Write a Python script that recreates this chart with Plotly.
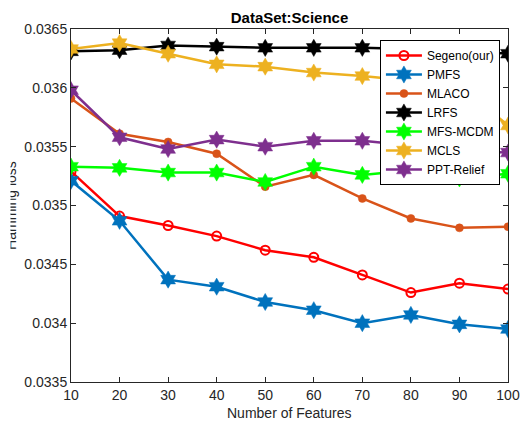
import plotly.graph_objects as go

features = [10, 20, 30, 40, 50, 60, 70, 80, 90, 100]
segeno = [0.03529, 0.03491, 0.03483, 0.03474, 0.03462, 0.03456, 0.03441, 0.03426, 0.03434, 0.03429]
pmfs = [0.03521, 0.03487, 0.03437, 0.03431, 0.03418, 0.03411, 0.03400, 0.03407, 0.03399, 0.03395]
mlaco = [0.03591, 0.03561, 0.03554, 0.03544, 0.03516, 0.03526, 0.03506, 0.03489, 0.03481, 0.03482]
lrfs = [0.03631, 0.03632, 0.03636, 0.03635, 0.03634, 0.03634, 0.03634, 0.03633, 0.03632, 0.03629]
mfs_mcdm = [0.03533, 0.03532, 0.03528, 0.03528, 0.03520, 0.03533, 0.03526, 0.03530, 0.03523, 0.03527]
mcls = [0.03633, 0.03638, 0.03629, 0.03620, 0.03618, 0.03613, 0.03610, 0.03606, 0.03602, 0.03568]
ppt_relief = [0.03598, 0.03558, 0.03548, 0.03556, 0.03550, 0.03555, 0.03555, 0.03551, 0.03546, 0.03545]

series = [
    ("Segeno(our)", segeno, "#FF0000", "circle-open", 9),
    ("PMFS", pmfs, "#0072BD", "hexagram", 13),
    ("MLACO", mlaco, "#D95319", "circle", 8),
    ("LRFS", lrfs, "#000000", "hexagram", 13),
    ("MFS-MCDM", mfs_mcdm, "#00FF00", "hexagram", 13),
    ("MCLS", mcls, "#EDB120", "hexagram", 13),
    ("PPT-Relief", ppt_relief, "#7E2F8E", "hexagram", 13),
]

fig = go.Figure()
for name, vals, color, sym, size in series:
    fig.add_trace(go.Scatter(
        x=features, y=vals, name=name, mode="lines+markers",
        line=dict(color=color, width=2.5),
        marker=dict(symbol=sym, size=size, color=color,
                    line=dict(color=color, width=2 if sym == "circle-open" else 0.5)),
    ))

W, H = 532, 421
L, R, T, B = 71, 14, 29, 39
axis_color = "#262626"
font_family = "Liberation Sans, Arial, sans-serif"
pw = W - L - R
ph = H - T - B

fig.update_layout(
    width=W, height=H,
    margin=dict(l=L, r=R, t=T, b=B),
    paper_bgcolor="white", plot_bgcolor="white",
    font=dict(family=font_family, size=14, color=axis_color),
    title=dict(text="<b>DataSet:Science</b>", x=0.5, xanchor="center",
               xref="paper", y=1 - 18 / H, yref="container", yanchor="middle",
               font=dict(size=15, color="#000000")),
    showlegend=True,
    legend=dict(x=(387 - L) / pw, y=1 - (40 - T) / ph,
                xanchor="left", yanchor="top",
                bgcolor="white", bordercolor="#000000", borderwidth=1,
                font=dict(size=12, color="#000000"),
                itemwidth=36, tracegroupgap=0),
)

fig.update_xaxes(
    range=[10, 100], tickvals=features, ticktext=[str(v) for v in features],
    showgrid=False, zeroline=False, showline=True, linecolor=axis_color, linewidth=1,
    mirror="ticks", ticks="inside", ticklen=5, tickcolor=axis_color,
    tickfont=dict(size=14, color=axis_color),
)
fig.update_yaxes(
    range=[0.0335, 0.0365],
    tickvals=[0.0335, 0.034, 0.0345, 0.035, 0.0355, 0.036, 0.0365],
    ticktext=["0.0335", "0.034", "0.0345", "0.035", "0.0355", "0.036", "0.0365"],
    showgrid=False, zeroline=False, showline=True, linecolor=axis_color, linewidth=1,
    mirror="ticks", ticks="inside", ticklen=5, tickcolor=axis_color,
    tickfont=dict(size=14, color=axis_color),
)

fig.add_annotation(text="Number of Features", xref="paper", yref="paper",
                   x=0.5, y=(382 - 413) / ph, xanchor="center", yanchor="middle",
                   showarrow=False, font=dict(size=14, color=axis_color))
fig.add_annotation(text="Hamming loss", xref="paper", yref="paper",
                   x=(9 - L) / pw, y=0.5, xanchor="center", yanchor="middle",
                   textangle=-90, showarrow=False, font=dict(size=14, color=axis_color))
# white band: the reference crops off the left part of the y-axis title
fig.add_annotation(text=" ", xref="paper", yref="paper",
                   x=(0 - L) / pw, y=0.5, xanchor="left", yanchor="middle",
                   width=7, height=140, bgcolor="white", borderpad=0,
                   showarrow=False, font=dict(size=2))

fig.write_html("out.html")
